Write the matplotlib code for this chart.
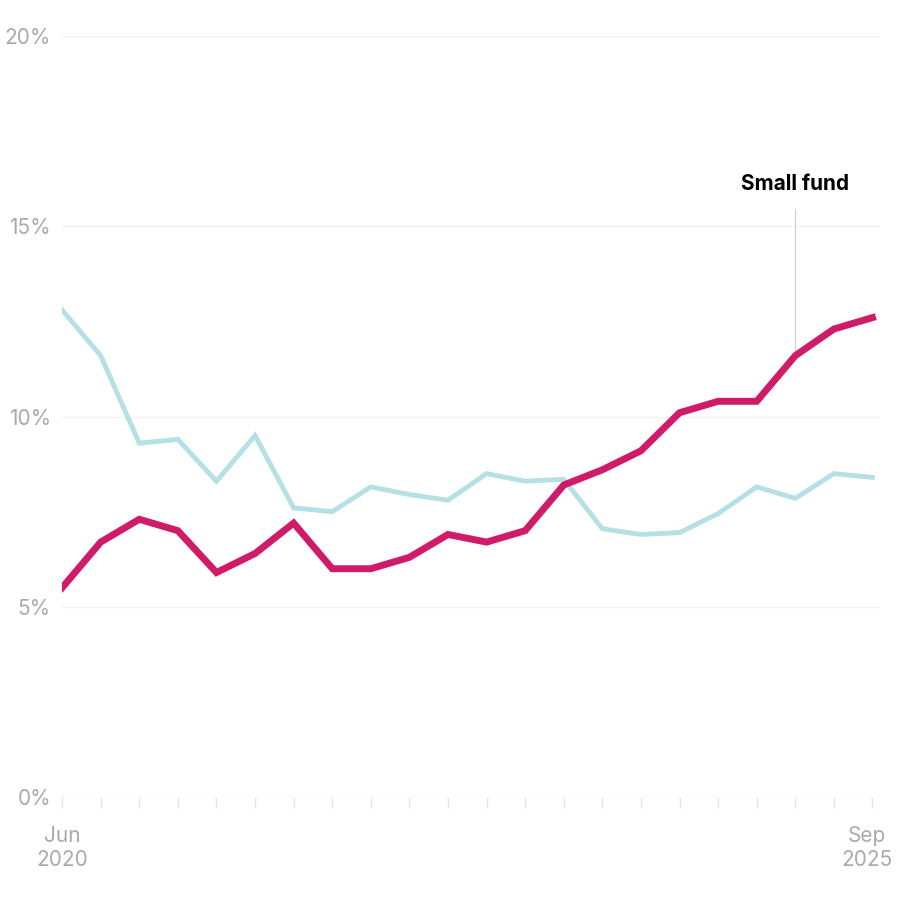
import matplotlib
matplotlib.use("Agg")
import matplotlib.pyplot as plt

plt.rcParams['font.family'] = ['Inter', 'DejaVu Sans']

quarters = list(range(22))
small_fund = [5.5, 6.7, 7.3, 7.0, 5.9, 6.4, 7.2, 6.0, 6.0, 6.3, 6.9, 6.7, 7.0, 8.2, 8.6, 9.1,
              10.1, 10.4, 10.4, 11.6, 12.3, 12.6]
other = [12.8, 11.6, 9.3, 9.4, 8.3, 9.5, 7.6, 7.5, 8.15, 7.95, 7.8, 8.5, 8.3, 8.35, 7.05, 6.9,
         6.95, 7.45, 8.15, 7.85, 8.5, 8.4]
yticks = [0, 5, 10, 15, 20]
ytick_labels = ["0%", "5%", "10%", "15%", "20%"]

fig = plt.figure(figsize=(9, 9.01), dpi=100)
ax = fig.add_axes([0.069, 0.1154, 0.909, 0.8446])
ax.set_xlim(0, 21.2)
ax.set_ylim(0, 20)
for y in yticks:
    ax.axhline(y, color='#f2f2f2', lw=1, zorder=0)
ax.plot(quarters, other, color='#b5e0e4', lw=3.5, solid_joinstyle='miter', zorder=2)
ax.plot(quarters, small_fund, color='#d01c68', lw=5, solid_joinstyle='miter', zorder=3)

ax.plot([19, 19], [small_fund[19], 15.45], color='#cccccc', lw=0.8, zorder=1)
ax.text(19, 15.85, "Small fund", ha='center', va='bottom', fontsize=15, fontweight='bold', color='black')

for s in ax.spines.values():
    s.set_visible(False)
ax.set_yticks(yticks)
ax.set_yticklabels(ytick_labels)
ax.tick_params(axis='y', length=0, pad=8, labelsize=15, labelcolor='#aaaaaa')
ax.set_xticks(quarters)
ax.set_xticklabels([])
ax.tick_params(axis='x', length=8, color='#e5e5e5', width=1, direction='out')
ax.text(0, -0.75, "Jun\n2020", ha='center', va='top', fontsize=15, color='#aaaaaa', linespacing=1.3)
ax.text(20.85, -0.75, "Sep\n2025", ha='center', va='top', fontsize=15, color='#aaaaaa', linespacing=1.3)

fig.savefig("out.png", dpi=100)
